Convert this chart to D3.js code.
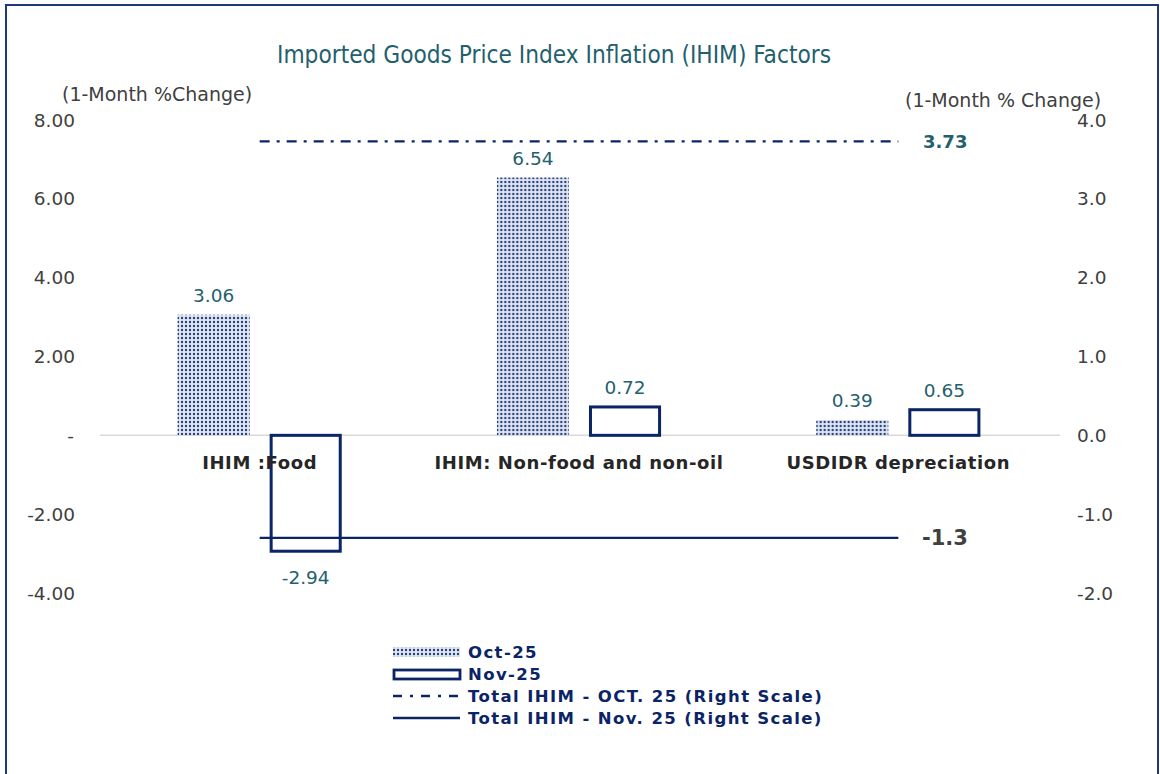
<!DOCTYPE html>
<html>
<head>
<meta charset="utf-8">
<script src="https://cdn.jsdelivr.net/npm/d3@7.9.0/dist/d3.min.js"></script>
<style>
  body { margin: 0; background: #fff; }
  svg { display: block; font-family: Verdana, "DejaVu Sans", sans-serif; }
</style>
</head>
<body>
<div id="chart"></div>
<script>
// chart data
const categories = ['IHIM :Food', 'IHIM: Non-food and non-oil', 'USDIDR depreciation'];
const seriesNames = ['Oct-25', 'Nov-25'];
const octValues = [3.06, 6.54, 0.39];
const novValues = [-2.94, 0.72, 0.65];
const totalOct = 3.73;   // right scale
const totalNov = -1.3;   // right scale
const leftTicks = [-4, -2, 0, 2, 4, 6, 8];
const rightTicks = [-2, -1, 0, 1, 2, 3, 4];
const legendLabels = ['Oct-25', 'Nov-25', 'Total IHIM - OCT. 25 (Right Scale)', 'Total IHIM - Nov. 25 (Right Scale)'];

const width = 1160, height = 774;
const navy = '#0b2466';
const teal = '#245f6e';
const gray = '#404040';

// d3 uses a real minus sign, the chart uses a hyphen
const fmt = spec => v => d3.format(spec)(v).replace('\u2212', '-');

const svg = d3.select('#chart').append('svg')
  .attr('width', width)
  .attr('height', height);

// dotted fill for the Oct bars
const defs = svg.append('defs');
const pat = defs.append('pattern')
  .attr('id', 'dots')
  .attr('patternUnits', 'userSpaceOnUse')
  .attr('width', 4)
  .attr('height', 4);
pat.append('rect').attr('width', 4).attr('height', 4).attr('fill', '#e1e6f0');
pat.append('circle').attr('cx', 2).attr('cy', 2).attr('r', 1.2).attr('fill', '#223f80');

// outer frame
svg.append('rect')
  .attr('x', 6).attr('y', 5)
  .attr('width', 1152).attr('height', 780)
  .attr('fill', 'none')
  .attr('stroke', '#1c3a7a')
  .attr('stroke-width', 2);

// title
svg.append('text')
  .attr('x', 554).attr('y', 63)
  .attr('text-anchor', 'middle')
  .attr('fill', teal)
  .style('font-family', '"DejaVu Sans Condensed", "DejaVu Sans", sans-serif')
  .style('font-stretch', 'condensed')
  .style('font-size', '24.2px')
  .text('Imported Goods Price Index Inflation (IHIM) Factors');

// scales
const x0 = d3.scaleBand().domain(categories).range([100, 1058]);
const x1 = d3.scaleBand().domain(seriesNames)
  .range([0, x0.bandwidth()])
  .paddingInner(0.217)
  .paddingOuter(0.843);
const yL = d3.scaleLinear().domain([-4, 8]).range([593, 120]);
const yR = d3.scaleLinear().domain([-2, 4]).range([593, 120]);

// axis titles
svg.append('text')
  .attr('x', 62).attr('y', 101)
  .attr('fill', gray)
  .style('font-size', '19px')
  .text('(1-Month %Change)');
svg.append('text')
  .attr('x', 905).attr('y', 107)
  .attr('fill', gray)
  .style('font-size', '19px')
  .text('(1-Month % Change)');

// left tick labels
svg.append('g').selectAll('text')
  .data(leftTicks)
  .join('text')
  .attr('x', d => d === 0 ? 74 : 75)
  .attr('y', d => yL(d))
  .attr('dy', '0.36em')
  .attr('text-anchor', 'end')
  .attr('fill', gray)
  .style('font-size', '18.5px')
  .text(d => d === 0 ? '-' : fmt('.2f')(d));

// right tick labels
svg.append('g').selectAll('text')
  .data(rightTicks)
  .join('text')
  .attr('x', 1077)
  .attr('y', d => yR(d))
  .attr('dy', '0.36em')
  .attr('fill', gray)
  .style('font-size', '18.5px')
  .text(d => fmt('.1f')(d));

// zero line
svg.append('line')
  .attr('x1', 100).attr('x2', 1060)
  .attr('y1', yL(0)).attr('y2', yL(0))
  .attr('stroke', '#d9d9d9')
  .attr('stroke-width', 1.5);

// bars
const rows = categories.map((c, i) => ({ cat: c, oct: octValues[i], nov: novValues[i] }));

const groups = svg.append('g').selectAll('g')
  .data(rows)
  .join('g')
  .attr('transform', d => `translate(${x0(d.cat)},0)`);

groups.append('rect')
  .attr('x', x1('Oct-25'))
  .attr('width', x1.bandwidth())
  .attr('y', d => yL(Math.max(0, d.oct)))
  .attr('height', d => Math.abs(yL(d.oct) - yL(0)))
  .attr('fill', 'url(#dots)');

groups.append('rect')
  .attr('x', x1('Nov-25') + 1.5)
  .attr('width', x1.bandwidth() - 3)
  .attr('y', d => yL(Math.max(0, d.nov)))
  .attr('height', d => Math.abs(yL(d.nov) - yL(0)))
  .attr('fill', 'none')
  .attr('stroke', navy)
  .attr('stroke-width', 3);

// value labels
groups.append('text')
  .attr('x', x1('Oct-25') + x1.bandwidth() / 2)
  .attr('y', d => yL(d.oct) - 13)
  .attr('text-anchor', 'middle')
  .attr('fill', teal)
  .style('font-size', '18.5px')
  .text(d => fmt('.2f')(d.oct));

groups.append('text')
  .attr('x', x1('Nov-25') + x1.bandwidth() / 2)
  .attr('y', d => d.nov >= 0 ? yL(d.nov) - 13 : yL(d.nov) + 33)
  .attr('text-anchor', 'middle')
  .attr('fill', teal)
  .style('font-size', '18.5px')
  .text(d => fmt('.2f')(d.nov));

// category labels
svg.append('g').selectAll('text')
  .data(categories)
  .join('text')
  .attr('x', d => x0(d) + x0.bandwidth() / 2)
  .attr('y', 469)
  .attr('text-anchor', 'middle')
  .attr('fill', '#262626')
  .style('font-size', '18px')
  .style('font-weight', 'bold')
  .style('letter-spacing', '0.6px')
  .text(d => d);

// total lines (right scale), from first to last category centre
const xa = x0(categories[0]) + x0.bandwidth() / 2;
const xb = x0(categories[categories.length - 1]) + x0.bandwidth() / 2;

svg.append('line')
  .attr('x1', xa).attr('x2', xb)
  .attr('y1', yR(totalOct)).attr('y2', yR(totalOct))
  .attr('stroke', navy)
  .attr('stroke-width', 2.2)
  .attr('stroke-dasharray', '10,7,3,7');

svg.append('line')
  .attr('x1', xa).attr('x2', xb)
  .attr('y1', yR(totalNov)).attr('y2', yR(totalNov))
  .attr('stroke', navy)
  .attr('stroke-width', 2.2);

svg.append('text')
  .attr('x', 923).attr('y', yR(totalOct))
  .attr('dy', '0.36em')
  .attr('fill', teal)
  .style('font-size', '18px')
  .style('font-weight', 'bold')
  .text(fmt('.2f')(totalOct));

svg.append('text')
  .attr('x', 922).attr('y', yR(totalNov))
  .attr('dy', '0.36em')
  .attr('fill', gray)
  .style('font-size', '21px')
  .style('font-weight', 'bold')
  .text(fmt('.1f')(totalNov));

// legend
const legend = svg.append('g').attr('transform', 'translate(392,652)');
const legendRow = 22;
legendLabels.forEach((lab, i) => {
  const g = legend.append('g').attr('transform', `translate(0,${i * legendRow})`);
  if (i === 0) {
    g.append('rect').attr('x', 1).attr('y', -5).attr('width', 67).attr('height', 10).attr('fill', 'url(#dots)');
  } else if (i === 1) {
    g.append('rect').attr('x', 2).attr('y', -4).attr('width', 66).attr('height', 9)
      .attr('fill', 'none').attr('stroke', navy).attr('stroke-width', 2.8);
  } else {
    g.append('line').attr('x1', 1).attr('x2', 68).attr('y1', 0).attr('y2', 0)
      .attr('stroke', navy).attr('stroke-width', 2.4)
      .attr('stroke-dasharray', i === 2 ? '9,8,3,8' : null);
  }
  g.append('text')
    .attr('x', 76).attr('y', 0)
    .attr('dy', '0.36em')
    .attr('fill', navy)
    .style('font-size', '16.5px')
    .style('font-weight', 'bold')
    .style('letter-spacing', '1.4px')
    .text(lab);
});
</script>
</body>
</html>
